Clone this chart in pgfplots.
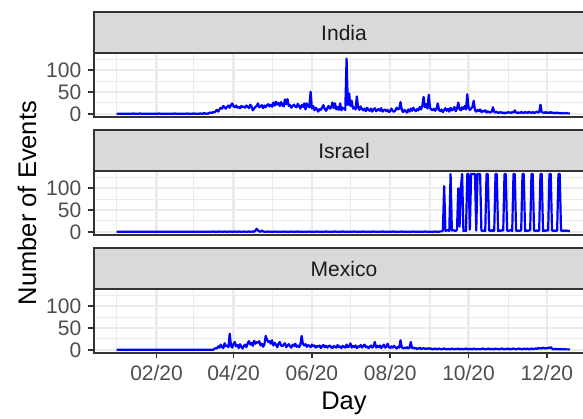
\documentclass[border=0pt]{standalone}
\usepackage{pgfplots}
\usepackage{pgfplotstable}
\pgfplotsset{compat=1.18}
\usepackage{fontspec}
\setmainfont{Liberation Sans}

\definecolor{gridc}{HTML}{EBEBEB}
\definecolor{frame}{HTML}{333333}
\definecolor{ticklab}{HTML}{4D4D4D}
\definecolor{stripbg}{HTML}{D9D9D9}
\definecolor{striptxt}{HTML}{1A1A1A}

% d = days since 01/01/2020, I = India, S = Israel, M = Mexico
\pgfplotstableread[row sep=\\]{
d I S M\\
0 0 0 0\\1 0 0 0\\2 0 0 0\\3 0 0 0\\4 0 0 0\\5 0 0 0\\6 0 0 0\\7 0 0 0\\8 0 0 0\\9 0 0 0\\
10 0 0 0\\11 0 0 0\\12 0 0 0\\13 1 0 0\\14 0 0 0\\15 0 0 0\\16 0 0 0\\17 0 0 0\\18 1 0 0\\19 0 0 0\\
20 0 0 0\\21 0 0 0\\22 0 0 0\\23 0 0 0\\24 0 0 0\\25 0 0 0\\26 0 0 0\\27 0 0 0\\28 0 0 0\\29 0 0 0\\
30 0 0 0\\31 0 0 0\\32 0 0 0\\33 1 0 0\\34 0 0 0\\35 0 0 0\\36 0 0 0\\37 0 0 0\\38 0 0 0\\39 0 0 0\\
40 0 0 0\\41 0 0 0\\42 0 0 0\\43 0 0 0\\44 0 0 0\\45 1 0 0\\46 0 0 0\\47 0 0 0\\48 0 0 0\\49 0 0 0\\
50 0 0 0\\51 0 0 0\\52 0 0 0\\53 0 0 0\\54 0 0 0\\55 1 0 0\\56 0 0 0\\57 0 0 0\\58 0 0 0\\59 0 0 0\\
60 1 0 0\\61 0 0 0\\62 0 0 0\\63 0 0 0\\64 0 0 0\\65 1 0 0\\66 0 0 0\\67 0 0 0\\68 2 0 0\\69 0 0 0\\
70 1 0 0\\71 0 0 0\\72 2 0 0\\73 3 0 0\\74 2 0 0\\75 4 1 0\\76 3 0 2\\77 6 0 4\\78 9 0 3\\79 5 0 8\\
80 10 1 5\\81 14 0 12\\82 12 0 6\\83 18 0 4\\84 15 1 15\\85 12 0 8\\86 16 0 10\\87 19 0 6\\88 14 1 37\\89 20 0 9\\
90 24 0 5\\91 17 0 14\\92 15 1 18\\93 19 0 8\\94 14 0 11\\95 16 1 4\\96 13 0 13\\97 18 0 7\\98 15 0 3\\99 17 1 9\\
100 14 0 12\\101 19 0 6\\102 16 0 15\\103 13 1 20\\104 21 0 12\\105 17 0 16\\106 8 1 9\\107 12 0 21\\108 16 3 14\\109 18 7 18\\
110 24 3 16\\111 15 1 20\\112 17 0 10\\113 20 3 14\\114 13 1 7\\115 19 0 12\\116 15 0 32\\117 20 0 24\\118 22 1 18\\119 17 0 20\\
120 21 0 14\\121 16 0 22\\122 26 0 10\\123 19 1 16\\124 28 0 12\\125 21 0 6\\126 25 0 14\\127 18 0 18\\128 27 0 10\\129 20 0 8\\
130 17 1 12\\131 33 0 15\\132 22 0 6\\133 34 0 10\\134 18 0 13\\135 20 0 8\\136 14 1 5\\137 18 0 12\\138 21 0 9\\139 17 0 14\\
140 15 0 7\\141 23 1 10\\142 18 0 6\\143 12 0 11\\144 20 0 32\\145 16 0 14\\146 24 0 10\\147 10 0 13\\148 24 0 7\\149 17 0 11\\
150 15 1 9\\151 51 0 6\\152 12 0 12\\153 18 0 8\\154 8 0 10\\155 14 0 5\\156 10 1 9\\157 5 0 7\\158 11 0 10\\159 9 0 4\\
160 15 0 8\\161 20 0 11\\162 11 0 6\\163 7 1 9\\164 13 0 5\\165 18 0 8\\166 12 0 10\\167 15 0 6\\168 26 0 4\\169 13 0 9\\
170 24 1 7\\171 10 0 5\\172 16 0 11\\173 9 0 6\\174 24 0 8\\175 8 0 4\\176 14 1 9\\177 12 0 7\\178 9 0 5\\179 127 0 12\\
180 20 0 6\\181 47 0 8\\182 18 0 15\\183 30 0 5\\184 12 0 9\\185 15 1 6\\186 10 0 10\\187 40 0 4\\188 14 0 8\\189 9 0 7\\
190 17 0 11\\191 11 0 5\\192 8 1 9\\193 12 0 12\\194 6 0 6\\195 14 0 8\\196 9 0 4\\197 7 0 7\\198 12 0 10\\199 5 0 5\\
200 10 1 8\\201 13 0 18\\202 6 0 5\\203 9 0 9\\204 11 0 6\\205 7 0 10\\206 13 0 4\\207 5 1 8\\208 8 0 12\\209 10 0 5\\
210 6 0 7\\211 9 0 14\\212 4 0 6\\213 7 0 4\\214 12 0 8\\215 6 1 5\\216 5 0 9\\217 8 0 6\\218 14 0 3\\219 10 0 7\\
220 12 0 5\\221 27 0 22\\222 9 1 6\\223 4 0 3\\224 9 0 5\\225 6 0 4\\226 3 0 6\\227 10 0 3\\228 5 0 5\\229 12 0 18\\
230 7 0 4\\231 14 1 5\\232 9 0 3\\233 6 0 4\\234 11 0 2\\235 8 0 3\\236 16 0 5\\237 10 0 2\\238 18 0 3\\239 39 0 4\\
240 15 1 2\\241 22 0 3\\242 12 0 2\\243 44 0 4\\244 14 0 2\\245 10 0 3\\246 8 0 1\\247 12 0 2\\248 7 1 3\\249 11 0 1\\
250 24 0 2\\251 9 0 3\\252 6 1 2\\253 10 1 1\\254 4 3 2\\255 9 105 3\\256 13 2 2\\257 7 3 1\\258 11 4 2\\259 5 2 2\\
260 14 133 1\\261 8 3 3\\262 10 4 2\\263 16 3 1\\264 6 2 2\\265 12 5 2\\266 26 100 3\\267 11 12 1\\268 8 102 2\\269 15 133 2\\
270 11 2 1\\271 18 3 2\\272 10 2 3\\273 45 133 2\\274 14 133 1\\275 9 5 2\\276 12 133 2\\277 16 133 1\\278 30 133 3\\279 8 133 2\\
280 5 3 1\\281 9 133 2\\282 6 133 2\\283 10 133 1\\284 4 3 2\\285 7 2 3\\286 5 3 2\\287 8 2 1\\288 3 133 2\\289 6 133 2\\
290 4 3 3\\291 3 2 1\\292 5 4 2\\293 15 2 2\\294 4 3 1\\295 3 133 3\\296 5 133 2\\297 2 2 2\\298 3 3 1\\299 4 2 2\\
300 2 4 3\\301 3 3 2\\302 1 133 1\\303 3 133 2\\304 2 3 2\\305 4 2 3\\306 3 3 1\\307 2 4 2\\308 4 2 2\\309 3 133 3\\
310 8 133 2\\311 3 3 1\\312 2 2 2\\313 3 3 3\\314 2 2 2\\315 4 4 2\\316 3 133 1\\317 2 133 3\\318 4 2 2\\319 3 3 2\\
320 2 2 3\\321 5 3 1\\322 3 4 2\\323 2 133 3\\324 4 133 2\\325 2 3 2\\326 3 2 3\\327 5 3 2\\328 3 2 4\\329 4 3 3\\
330 21 133 4\\331 4 133 3\\332 3 2 5\\333 2 3 3\\334 4 2 4\\335 2 4 3\\336 3 3 5\\337 2 133 4\\338 4 133 6\\339 2 3 3\\
340 3 2 1\\341 1 3 2\\342 2 2 2\\343 3 3 1\\344 1 133 2\\345 2 133 1\\346 1 3 2\\347 2 2 1\\348 1 3 1\\349 1 2 2\\
350 2 3 1\\351 1 2 1\\352 1 2 1\\353 1 2 1\\
}\events

\pgfplotsset{
  panel/.style={
    scale only axis, width=250pt, height=31.7pt,
    xmin=-17.7, xmax=371.7, ymin=-6.65, ymax=139.15,
    xtick={31,91,152,213,274,335},
    minor xtick={0,60,121,182,244,305,366},
    ytick={0,50,100}, minor ytick={25,75,125},
    grid=both,
    major grid style={gridc, line width=1.1pt},
    minor grid style={gridc, line width=0.55pt},
    axis line style={frame, line width=0.9pt},
    tick align=outside, xtick pos=bottom, ytick pos=left,
    major tick length=2.85pt, minor tick length=0pt,
    tick style={frame, line width=0.9pt},
    tick label style={font=\fontsize{10.5}{12}\selectfont, text=ticklab},
    /pgf/number format/assume math mode=true,
  },
  series/.style={blue, line width=1.1pt, line join=round},
}

\newcommand{\strip}[2]{%
  \draw[frame, fill=stripbg, line width=0.9pt] (47pt,#1) rectangle ++(250pt,20.8pt);
  \node[text=striptxt, font=\fontsize{10.5}{12}\selectfont] at (172pt,#1+10.4pt) {#2};}

\begin{document}
\begin{tikzpicture}
\begin{axis}[panel, at={(47pt,-58.35pt)}, anchor=south west,
  xticklabels={}, xtick style={draw=none}]
\addplot[series] table[x=d, y=I] {\events};
\end{axis}
\strip{-26.65pt}{India}

\begin{axis}[panel, at={(47pt,-117.35pt)}, anchor=south west,
  xticklabels={}, xtick style={draw=none}]
\addplot[series] table[x=d, y=S] {\events};
\end{axis}
\strip{-85.65pt}{Israel}

\begin{axis}[panel, at={(47pt,-176.35pt)}, anchor=south west,
  xticklabels={02/20,04/20,06/20,08/20,10/20,12/20}]
\addplot[series] table[x=d, y=M] {\events};
\end{axis}
\strip{-144.65pt}{Mexico}

\node[rotate=90, font=\fontsize{12.75}{15}\selectfont] at (13.5pt,-101.5pt) {Number of Events};
\node[font=\fontsize{12.75}{15}\selectfont] at (172pt,-201.75pt) {Day};

\pgfresetboundingbox
\path[use as bounding box] (0pt,0pt) rectangle (291.5pt,-209pt);
\end{tikzpicture}
\end{document}
